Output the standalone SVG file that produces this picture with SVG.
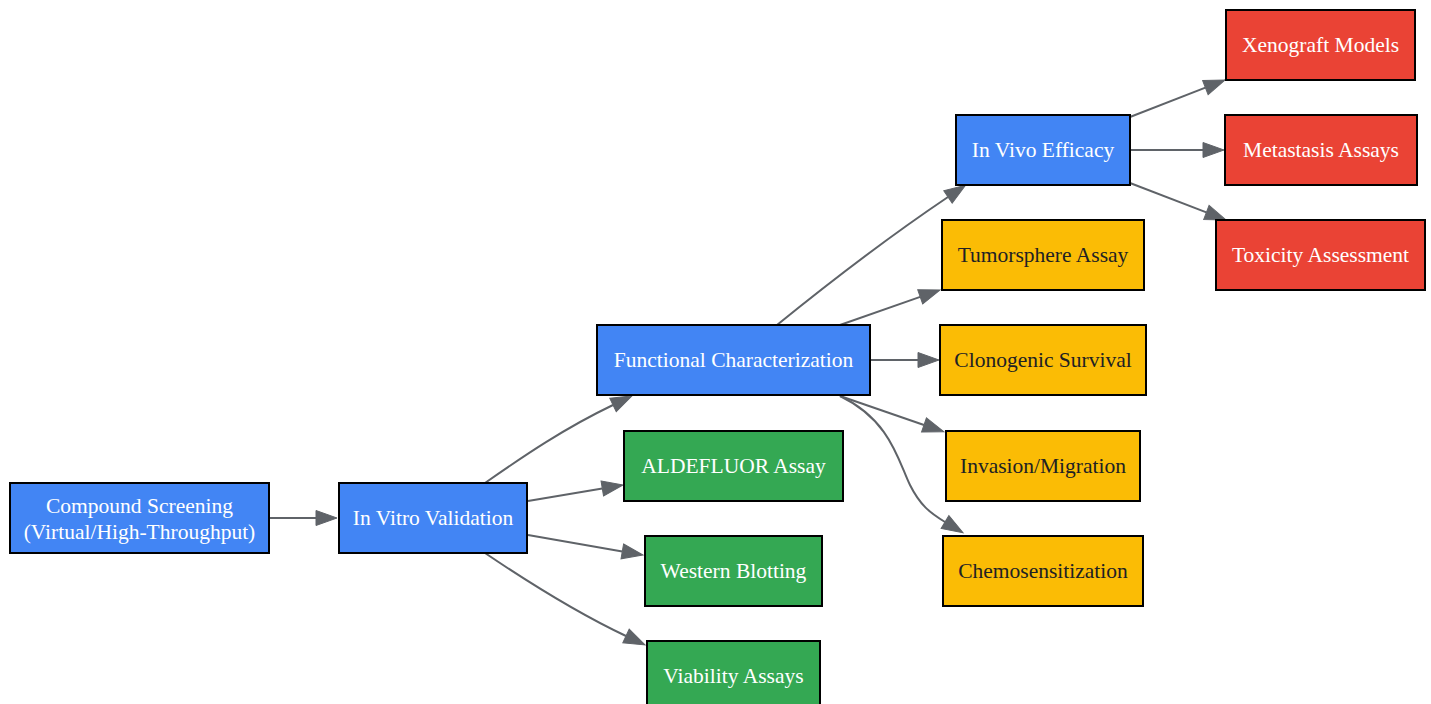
<svg xmlns="http://www.w3.org/2000/svg" width="1431" height="704" viewBox="0 0 1431 704">
<style>
.n rect{stroke:#000;stroke-width:2}
.b rect{fill:#4285f4}.g rect{fill:#34a853}.y rect{fill:#fbbc05}.r rect{fill:#ea4335}
text{font-family:"Liberation Serif","Times New Roman",serif;font-size:21.5px;text-anchor:middle;fill:#fff}
.y text{fill:#202124}
#edges path{fill:none;stroke:#5f6368;stroke-width:2;marker-end:url(#ah)}
</style>
<defs>
<marker id="ah" markerUnits="userSpaceOnUse" markerWidth="23" markerHeight="17" refX="0" refY="7.5" orient="auto" overflow="visible">
<path d="M0,0 L21,7.5 L0,15 z" fill="#5f6368" stroke="#5f6368" stroke-width="1"/>
</marker>
</defs>
<rect width="1431" height="704" fill="#fff"/>
<g id="edges">
<path d="M269,518 L316,518"/>
<path d="M485,483 C525,455 565,428 613,405"/>
<path d="M528,501 L602.3,488.5"/>
<path d="M528,535 L622.3,551.4"/>
<path d="M485,553 C525,580 575,612 626,636"/>
<path d="M777,325 C830,282 890,236 948,197"/>
<path d="M840,325 L920.2,296.9"/>
<path d="M870,360 L918,360"/>
<path d="M840,396 L924,425"/>
<path d="M840,396 C890,420 898,460 910,485 C920,505 930,513 945,522"/>
<path d="M1130,117 L1205.4,87.6"/>
<path d="M1130,150 L1203,150"/>
<path d="M1130,183 L1206.4,212.4"/>
</g>
<g id="compound" class="n b"><rect x="10" y="483" width="259" height="70"/><text x="139.5" y="513">Compound Screening</text><text x="139.5" y="539">(Virtual/High-Throughput)</text></g>
<g id="invitro" class="n b"><rect x="339" y="483" width="188" height="70"/><text x="433" y="525">In Vitro Validation</text></g>
<g id="functional" class="n b"><rect x="597" y="325" width="273" height="70"/><text x="733.5" y="367">Functional Characterization</text></g>
<g id="aldefluor" class="n g"><rect x="624" y="431" width="219" height="70"/><text x="733.5" y="473">ALDEFLUOR Assay</text></g>
<g id="western" class="n g"><rect x="645" y="536" width="177" height="70"/><text x="733.5" y="578">Western Blotting</text></g>
<g id="viability" class="n g"><rect x="647" y="641" width="173" height="70"/><text x="733.5" y="683">Viability Assays</text></g>
<g id="invivo" class="n b"><rect x="956" y="115" width="174" height="70"/><text x="1043" y="157">In Vivo Efficacy</text></g>
<g id="tumorsphere" class="n y"><rect x="942" y="220" width="202" height="70"/><text x="1043" y="262">Tumorsphere Assay</text></g>
<g id="clonogenic" class="n y"><rect x="940" y="325" width="206" height="70"/><text x="1043" y="367">Clonogenic Survival</text></g>
<g id="invasion" class="n y"><rect x="946" y="431" width="194" height="70"/><text x="1043" y="473">Invasion/Migration</text></g>
<g id="chemo" class="n y"><rect x="943" y="536" width="200" height="70"/><text x="1043" y="578">Chemosensitization</text></g>
<g id="xenograft" class="n r"><rect x="1226" y="10" width="189" height="70"/><text x="1320.5" y="52">Xenograft Models</text></g>
<g id="metastasis" class="n r"><rect x="1225" y="115" width="192" height="70"/><text x="1321" y="157">Metastasis Assays</text></g>
<g id="toxicity" class="n r"><rect x="1216" y="220" width="209" height="70"/><text x="1320.5" y="262">Toxicity Assessment</text></g>
</svg>
